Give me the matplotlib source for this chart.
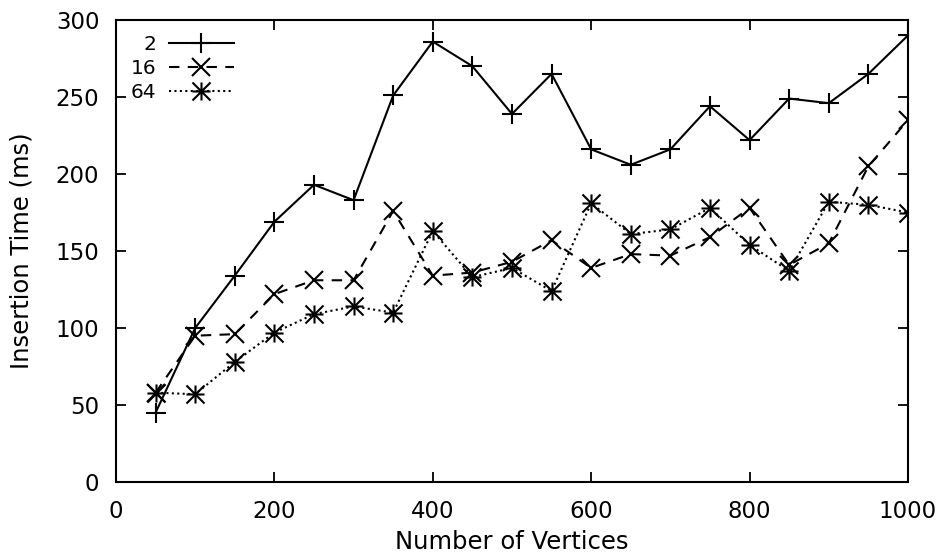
import matplotlib
matplotlib.use("Agg")
import matplotlib.pyplot as plt
from matplotlib.path import Path

vertices = [50, 100, 150, 200, 250, 300, 350, 400, 450, 500,
            550, 600, 650, 700, 750, 800, 850, 900, 950, 1000]
t2 = [45, 100, 134, 169, 193, 183, 251, 286, 270, 239,
      265, 216, 206, 216, 244, 222, 249, 246, 265, 290]
t16 = [58, 95, 96, 122, 131, 131, 176, 134, 136, 143,
       157, 139, 148, 147, 159, 178, 141, 155, 205, 235]
t64 = [58, 57, 78, 97, 109, 114, 110, 163, 133, 139,
       124, 181, 161, 164, 178, 154, 137, 182, 180, 175]

# gnuplot-style asterisk: plus and cross overlaid
star = Path([(-1, 0), (1, 0), (0, -1), (0, 1), (-1, -1), (1, 1), (-1, 1), (1, -1)],
            [Path.MOVETO, Path.LINETO] * 4)

plt.rcParams["font.family"] = "DejaVu Sans"
fig = plt.figure(figsize=(9.46, 5.56), dpi=100)
ax = fig.add_axes([0.1226, 0.1331, 0.8372, 0.8309])

lw = 1.5
ax.plot(vertices, t2, color="black", lw=lw, ls="-", marker="+",
        ms=14, mew=lw, label="2")
ax.plot(vertices, t16, color="black", lw=lw, ls=(0, (5, 4)), marker="x",
        ms=13, mew=lw, label="16")
ax.plot(vertices, t64, color="black", lw=lw, ls=(0, (1, 1.6)), marker=star,
        ms=13, mew=lw, label="64")

ax.set_xlim(0, 1000)
ax.set_ylim(0, 300)
ax.set_xticks(range(0, 1001, 200))
ax.set_yticks(range(0, 301, 50))
ax.tick_params(direction="in", length=7, width=1.3, top=True, right=True,
               labelsize=16.5)
ax.tick_params(axis="x", pad=13)
ax.tick_params(axis="y", pad=12)
for s in ax.spines.values():
    s.set_linewidth(1.5)

ax.set_xlabel("Number of Vertices", fontsize=17.5, labelpad=5)
ax.set_ylabel("Insertion Time (ms)", fontsize=17.5, labelpad=16)

ax.legend(loc="upper left", frameon=False, markerfirst=False, fontsize=14.5,
          handlelength=3.2, handletextpad=0.65, labelspacing=0.25,
          borderaxespad=0.0, bbox_to_anchor=(0.008, 0.985))

fig.savefig("out.png", dpi=100)
